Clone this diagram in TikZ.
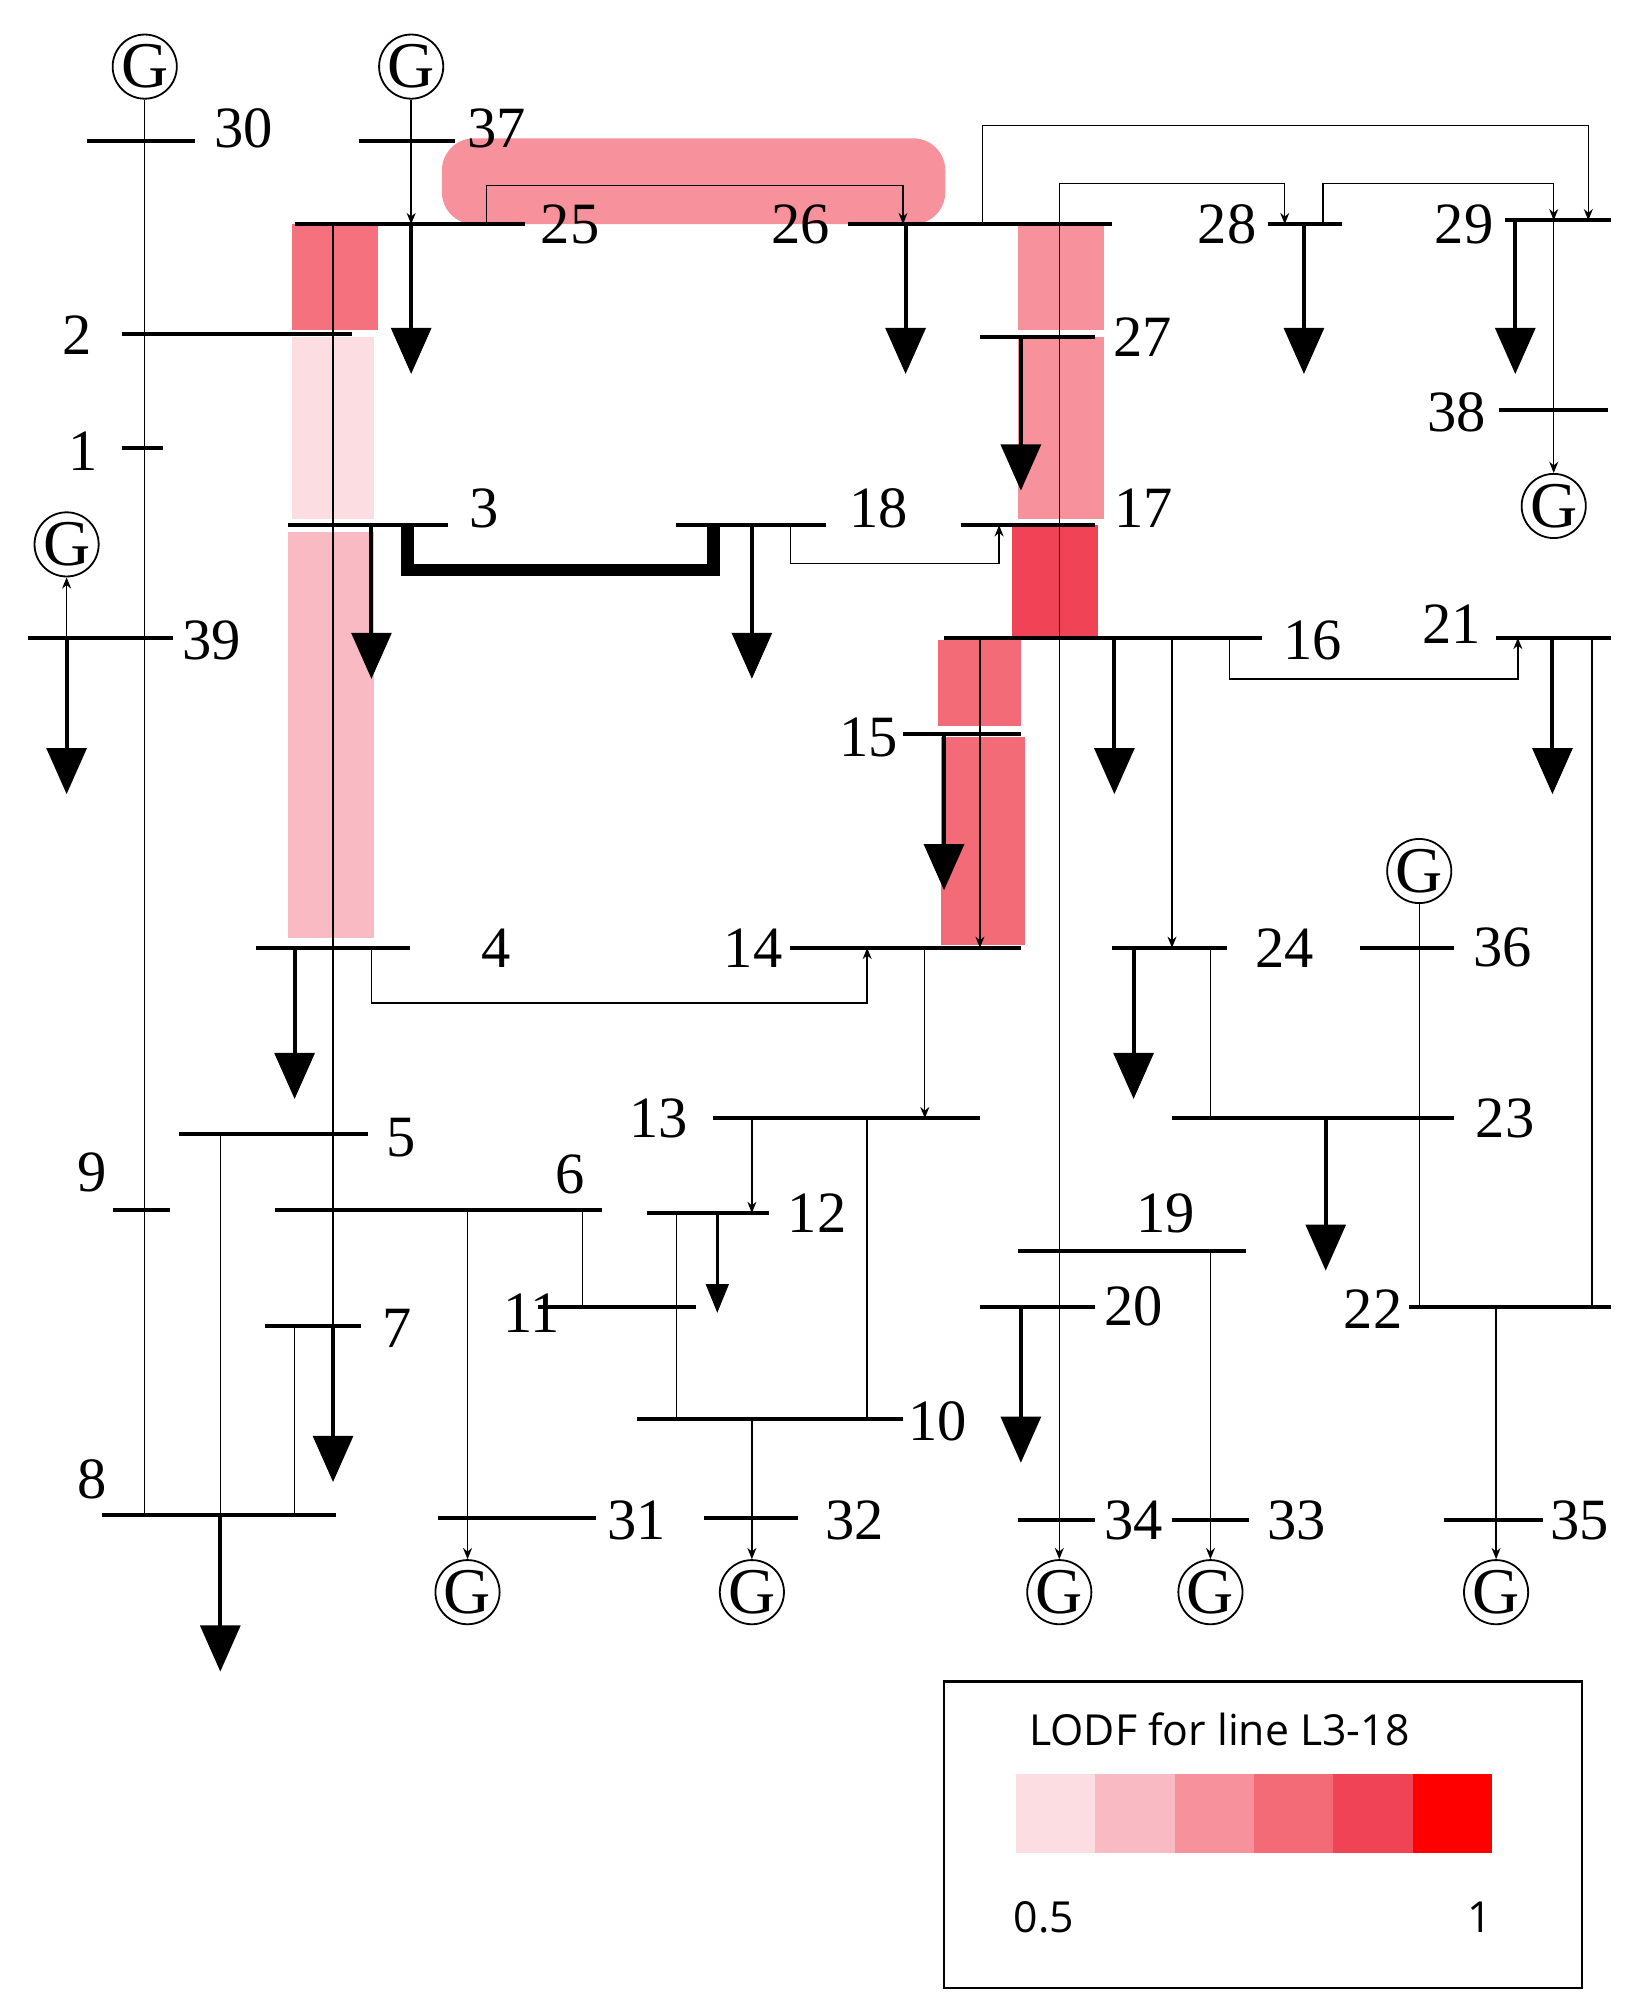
\documentclass[tikz,border=0pt]{standalone}
\usepackage{fontspec}
\setmainfont{Liberation Serif}
\newfontfamily\legfont{Open Sans}
\usetikzlibrary{arrows.meta}
\definecolor{c1}{HTML}{FCDDE2}
\definecolor{c2}{HTML}{F9BAC3}
\definecolor{c3}{HTML}{F7919C}
\definecolor{c4}{HTML}{F46B78}
\definecolor{c5}{HTML}{F14356}
\definecolor{c6}{HTML}{FF0000}
\tikzset{
 bus/.style={line width=1.8pt},
 thin/.style={line width=0.6pt},
 sa/.style={thin,-{Stealth[length=5pt,width=4pt]}},
 load/.style={line width=1.8pt,-{Triangle[width=0.62cm,length=0.72cm]}},
 lab/.style={font=\fontsize{26}{26}\selectfont,inner sep=0pt},
 gen/.style={circle,draw,line width=0.8pt,minimum size=0.95cm,inner sep=0pt,font=\fontsize{29}{29}\selectfont,fill=white},
}
\begin{document}
\begin{tikzpicture}[x=0.02cm,y=-0.02cm]
\useasboundingbox (0,0) rectangle (1280,1570);
% highlights
\fill[c3,rounded corners=0.5cm] (345,108) rectangle (738,175);
\fill[c4!85!c3] (228,175) rectangle (295,258);
\fill[c1] (228,263) rectangle (292,405);
\fill[c2] (225,415) rectangle (292,732);
\fill[c3] (795,175) rectangle (862,258);
\fill[c3] (795,263) rectangle (862,405);
\fill[c5] (790,410) rectangle (857,497);
\fill[c4] (732,500) rectangle (797,567);
\fill[c4] (735,575) rectangle (800,738);
% generators
\node[gen] (g30) at (113,52) {G};
\node[gen] (g37) at (321,52) {G};
\node[gen] (g39) at (52,425) {G};
\node[gen] (g38) at (1213,395) {G};
\node[gen] (g36) at (1108,680) {G};
\node[gen] (g31) at (365,1243) {G};
\node[gen] (g32) at (587,1243) {G};
\node[gen] (g34) at (827,1243) {G};
\node[gen] (g33) at (945,1243) {G};
\node[gen] (g35) at (1168,1243) {G};
% thin lines
\draw[thin] (g30) -- (113,1183);
\draw[sa] (g37) -- (321,175);
\draw[sa] (380,175) -- (380,145) -- (705,145) -- (705,175);
\draw[thin] (260,175) -- (260,1035);
\draw[sa] (767,175) -- (767,98) -- (1240,98) -- (1240,172);
\draw[sa] (827,175) -- (827,143) -- (1003,143) -- (1003,175);
\draw[sa] (1033,175) -- (1033,143) -- (1213,143) -- (1213,172);
\draw[sa] (1213,172) -- (g38);
\draw[sa] (827,175) -- (g34);
\draw[sa] (617,410) -- (617,440) -- (780,440) -- (780,410);
\draw[sa] (765,498) -- (765,740);
\draw[sa] (960,498) -- (960,530) -- (1185,530) -- (1185,498);
\draw[sa] (915,498) -- (915,740);
\draw[thin] (1243,498) -- (1243,1020);
\draw[thin] (945,740) -- (945,873);
\draw[thin] (g36) -- (1108,1020);
\draw[sa] (1168,1020) -- (g35);
\draw[sa] (290,740) -- (290,783) -- (677,783) -- (677,740);
\draw[sa] (722,740) -- (722,873);
\draw[sa] (587,873) -- (587,947);
\draw[thin] (677,873) -- (677,1108);
\draw[thin] (528,947) -- (528,1108);
\draw[thin] (455,945) -- (455,1020);
\draw[sa] (587,1108) -- (g32);
\draw[sa] (365,945) -- (g31);
\draw[thin] (172,885) -- (172,1183);
\draw[thin] (230,1035) -- (230,1183);
\draw[sa] (945,977) -- (g33);
\draw[sa] (52,498) -- (g39);
% thick 3-18
\draw[line width=5.5pt] (318,410) -- (318,445) -- (557,445) -- (557,410);
% buses
\foreach \a/\b/\y in {68/152/110,280/355/110,230/410/175,662/868/175,990/1048/175,1175/1258/172,
 95/275/261,765/855/263,1170/1255/320,95/127/350,225/350/410,528/645/410,750/855/410,
 22/135/498,737/985/498,1168/1258/498,705/797/573,200/320/740,617/797/740,868/958/740,
 1062/1135/740,557/765/873,915/1135/873,140/287/885,88/133/945,215/470/945,505/600/947,
 795/973/977,420/543/1020,765/855/1020,1100/1258/1020,207/282/1035,497/705/1108,80/262/1183,
 342/465/1185,550/623/1185,795/855/1187,915/975/1187,1127/1205/1187}
 \draw[bus] (\a,\y) -- (\b,\y);
% loads
\foreach \x/\a/\b in {321/175/292,707/175/292,797/263/383,1018/175/292,1183/172/292,290/410/530,
 587/410/530,52/498/620,870/498/620,1212/498/620,737/573/695,230/740/858,885/740/858,
 1035/873/992,260/1035/1157,797/1020/1142,172/1183/1305}
 \draw[load] (\x,\a) -- (\x,\b);
\draw[line width=1.5pt,-{Triangle[width=0.35cm,length=0.45cm]}] (560,947) -- (560,1025);
% labels
\foreach \x/\y/\t in {190/100/30,388/100/37,445/175/25,625/175/26,958/175/28,1143/175/29,
 60/262/2,892/263/27,1137/322/38,65/352/1,378/397/3,686/397/18,893/397/17,165/500/39,
 1025/500/16,1133/487/21,678/576/15,387/740/4,588/740/14,1003/740/24,1173/740/36,
 514/873/13,1175/873/23,313/888/5,72/915/9,445/917/6,638/947/12,910/947/19,415/1025/11,
 885/1020/20,1072/1022/22,310/1037/7,732/1110/10,72/1155/8,497/1187/31,667/1187/32,
 885/1187/34,1012/1187/33,1233/1187/35}
 \node[lab] at (\x,\y) {\t};
% legend
\draw[line width=1.2pt] (737,1313) rectangle (1235,1552);
\node[font=\legfont\fontsize{19}{19}\selectfont] at (952,1350) {LODF for line L3-18};
\foreach \i/\c in {0/c1,1/c2,2/c3,3/c4,4/c5,5/c6}
 \fill[\c] (793+62*\i,1385) rectangle (855+62*\i,1447);
\node[font=\legfont\fontsize{19}{19}\selectfont] at (815,1497) {0.5};
\node[font=\legfont\fontsize{19}{19}\selectfont] at (1155,1497) {1};
\end{tikzpicture}
\end{document}
